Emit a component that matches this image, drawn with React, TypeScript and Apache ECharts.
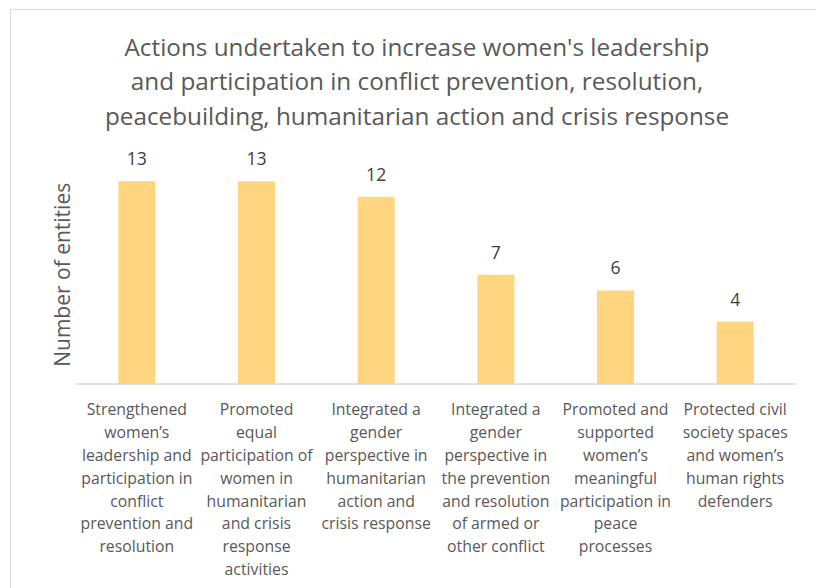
import React, { useEffect, useRef } from "react";
import * as echarts from "echarts";

const titleLines = [
  "Actions undertaken to increase women's leadership",
  "and participation in conflict prevention, resolution,",
  "peacebuilding, humanitarian action and crisis response",
];

const categories = [
  "Strengthened\nwomen’s\nleadership and\nparticipation in\nconflict\nprevention and\nresolution",
  "Promoted\nequal\nparticipation of\nwomen in\nhumanitarian\nand crisis\nresponse\nactivities",
  "Integrated a\ngender\nperspective in\nhumanitarian\naction and\ncrisis response",
  "Integrated a\ngender\nperspective in\nthe prevention\nand resolution\nof armed or\nother conflict",
  "Promoted and\nsupported\nwomen’s\nmeaningful\nparticipation in\npeace\nprocesses",
  "Protected civil\nsociety spaces\nand women’s\nhuman rights\ndefenders",
];

const values = [13, 13, 12, 7, 6, 4];

const yAxisName = "Number of entities";

const FONT = "'Open Sans', 'Liberation Sans', sans-serif";

export default function App() {
  const ref = useRef<HTMLDivElement>(null);
  useEffect(() => {
    if (!ref.current) return;
    const chart = echarts.init(ref.current, undefined, { renderer: "svg" });
    chart.setOption({
      animation: false,
      backgroundColor: "#ffffff",
      title: {
        text: titleLines.join("\n"),
        left: 412,
        textAlign: "center",
        top: 24,
        textStyle: {
          fontFamily: FONT,
          fontSize: 24.3,
          fontWeight: "normal",
          color: "#595959",
          lineHeight: 34.5,
        },
      },
      graphic: [
        {
          type: "rect",
          shape: { x: 10.5, y: 9.5, width: 900, height: 900 },
          style: { fill: "none", stroke: "#D9D9D9", lineWidth: 1 },
          silent: true,
        },
      ],
      grid: { left: 77, right: 21, top: 165.6, bottom: 204, containLabel: false },
      xAxis: {
        type: "category",
        data: categories,
        axisLine: { lineStyle: { color: "#D9D9D9", width: 1.5 } },
        axisTick: { show: false },
        axisLabel: {
          interval: 0,
          margin: 14,
          fontFamily: FONT,
          fontSize: 15.8,
          color: "#595959",
          lineHeight: 22.8,
        },
      },
      yAxis: {
        type: "value",
        min: 0,
        max: 14,
        interval: 2,
        name: yAxisName,
        nameLocation: "middle",
        nameGap: 5,
        nameTextStyle: { fontFamily: FONT, fontSize: 21, color: "#595959" },
        axisLabel: { show: false },
        axisLine: { show: false },
        axisTick: { show: false },
        splitLine: { show: false },
      },
      series: [
        {
          type: "bar",
          data: values,
          barWidth: 37,
          itemStyle: { color: "#FFD57F" },
          label: {
            show: true,
            position: "top",
            distance: 14,
            fontFamily: FONT,
            fontSize: 17.6,
            color: "#404040",
          },
        },
      ],
    });
    return () => chart.dispose();
  }, []);
  return (
    <div
      ref={ref}
      style={{ position: "absolute", left: 0, top: 0, width: 816, height: 588 }}
    />
  );
}
